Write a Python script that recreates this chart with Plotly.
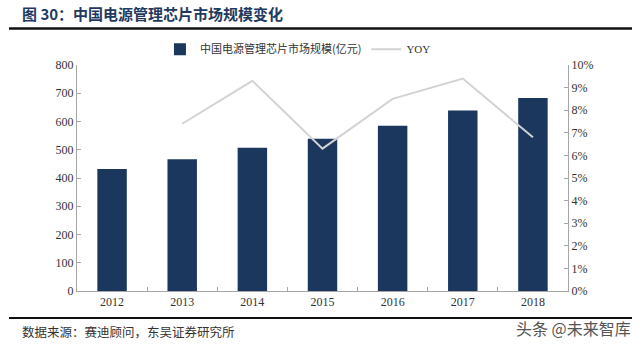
import plotly.graph_objects as go

years = ["2012", "2013", "2014", "2015", "2016", "2017", "2018"]
market_size = [432, 466, 507, 539, 585, 639, 683]
yoy_years = ["2013", "2014", "2015", "2016", "2017", "2018"]
yoy = [0.074, 0.093, 0.063, 0.085, 0.094, 0.068]

bar_name = "中国电源管理芯片市场规模(亿元)"
line_name = "YOY"
title_text = "图 30：中国电源管理芯片市场规模变化"
source_text = "数据来源：赛迪顾问，东吴证券研究所"
watermark = "头条 @未来智库"

serif = "Liberation Serif, Times New Roman, serif"
cjk = "Noto Sans CJK SC, sans-serif"

fig = go.Figure()
fig.add_trace(go.Bar(
    x=years, y=market_size, name=bar_name,
    marker=dict(color="#1B375E", line=dict(width=0)),
    yaxis="y",
))
fig.add_trace(go.Scatter(
    x=yoy_years, y=yoy, name="<span style='font-family:Liberation Serif'>" + line_name + "</span>",
    mode="lines",
    line=dict(color="#D3D3D3", width=2),
    yaxis="y2",
))

fig.update_layout(
    width=640, height=346,
    margin=dict(l=77, r=72, t=65, b=55),
    paper_bgcolor="white", plot_bgcolor="white",
    bargap=0.58,
    showlegend=True,
    legend=dict(
        orientation="h", x=0.45, xanchor="center", y=1.07, yanchor="middle",
        font=dict(family=cjk, size=11, color="#333333"),
        bgcolor="rgba(0,0,0,0)", itemwidth=30, tracegroupgap=0,
    ),
    font=dict(family=serif, size=12, color="#333333"),
    xaxis=dict(
        type="category", range=[-0.5, 6.5],
        showline=True, linecolor="#A6A6A6", linewidth=1,
        ticks="inside", ticklen=4, tickcolor="#A6A6A6", tickson="boundaries",
        tickfont=dict(family=serif, size=12, color="#333333"),
        showgrid=False, zeroline=False,
    ),
    yaxis=dict(
        range=[0, 800], dtick=100,
        showline=True, linecolor="#A6A6A6", linewidth=1,
        ticks="inside", ticklen=4, tickcolor="#A6A6A6",
        tickfont=dict(family=serif, size=12, color="#333333"),
        showgrid=False, zeroline=False,
    ),
    yaxis2=dict(
        range=[0, 0.10], dtick=0.01, tickformat=".0%",
        overlaying="y", side="right",
        showline=True, linecolor="#A6A6A6", linewidth=1,
        ticks="inside", ticklen=4, tickcolor="#A6A6A6",
        tickfont=dict(family=serif, size=12, color="#333333"),
        showgrid=False, zeroline=False,
    ),
)

# Title and separators
fig.add_annotation(
    xref="paper", yref="paper", x=(20 - 77) / 491, y=(346 - 55 - 14) / 226,
    xanchor="left", yanchor="middle", showarrow=False,
    text="<b>" + title_text + "</b>",
    font=dict(family=cjk, size=15, color="#1F3A60"),
)
fig.add_shape(
    type="line", xref="paper", yref="paper",
    x0=(9 - 77) / 491, x1=(632 - 77) / 491,
    y0=(346 - 55 - 28.5) / 226, y1=(346 - 55 - 28.5) / 226,
    line=dict(color="#111111", width=2.5),
)
fig.add_shape(
    type="line", xref="paper", yref="paper",
    x0=(9 - 77) / 491, x1=(632 - 77) / 491,
    y0=(346 - 55 - 318) / 226, y1=(346 - 55 - 318) / 226,
    line=dict(color="#111111", width=2),
)
fig.add_annotation(
    xref="paper", yref="paper", x=(20 - 77) / 491, y=(346 - 55 - 331) / 226,
    xanchor="left", yanchor="middle", showarrow=False,
    text=source_text,
    font=dict(family=cjk, size=12.5, color="#333333"),
)
fig.add_annotation(
    xref="paper", yref="paper", x=(633 - 77) / 491, y=(346 - 55 - 328) / 226,
    xanchor="right", yanchor="middle", showarrow=False,
    text=watermark,
    font=dict(family=cjk, size=16, color="#555555"),
)

fig.write_html("out.html")
